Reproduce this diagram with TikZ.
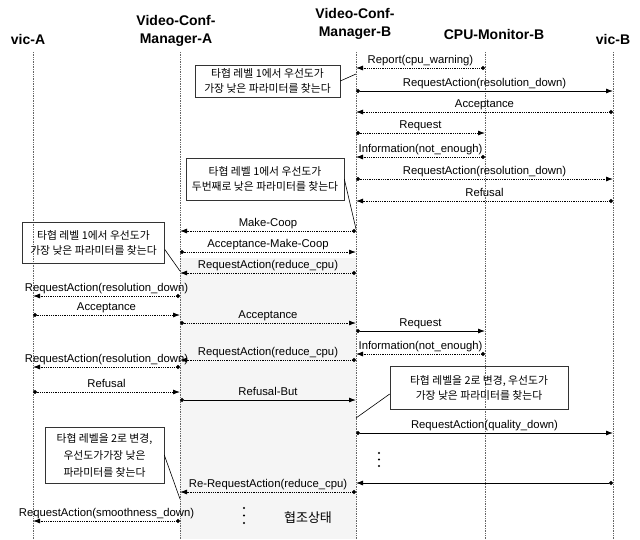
\documentclass[tikz,border=0pt]{standalone}
\usepackage{fontspec}
\setmainfont{Liberation Sans}
\newfontfamily\krfont{Noto Sans CJK KR}
\usetikzlibrary{arrows.meta,positioning}
\definecolor{lifeCol}{HTML}{666666}
\definecolor{noteEdge}{HTML}{333333}
\definecolor{coopCol}{HTML}{F5F5F5}
\tikzset{
  actor/.style={font=\fontsize{14}{18}\selectfont\bfseries, align=center, inner sep=0pt},
  life/.style={draw=lifeCol, densely dotted, line width=0.7pt},
  msg/.style={{Circle[length=4pt]}-{Latex[length=7pt,width=5pt]}, densely dotted, line width=0.8pt},
  msgs/.style={{Circle[length=4pt]}-{Latex[length=7pt,width=5pt]}, line width=0.8pt},
  mlab/.style={font=\fontsize{11.3}{13}\selectfont, above=1pt, inner sep=1pt,
        text height=8.5pt, text depth=2.5pt},
  note/.style={draw=noteEdge, line width=0.6pt, align=center, inner sep=2pt,
        font=\krfont\fontsize{10.8}{15}\selectfont},
  nlink/.style={draw, line width=0.6pt},
}

\begin{document}
\begin{tikzpicture}[x=1pt,y=-1pt]
  \useasboundingbox (0,0) rectangle (640,539);
  \fill[coopCol] (180,258) rectangle (356,539);
  \node[actor] (vicA) at (28,39) {vic-A};
  \node[actor] (vcmA) at (176,31) {Video-Conf-\\Manager-A};
  \node[actor] (vcmB) at (355,24) {Video-Conf-\\Manager-B};
  \node[actor] (cpuB) at (494,34) {CPU-Monitor-B};
  \node[actor] (vicB) at (613,39) {vic-B};
  \coordinate (lA) at (33,52);
  \coordinate (lMA) at (180,52);
  \coordinate (lMB) at (356,52);
  \coordinate (lC) at (485,52);
  \coordinate (lB) at (613,52);
  \draw[life] (lA) -- (lA |- 0,539);
  \draw[life] (lMA) -- (lMA |- 0,539);
  \draw[life] (lMB) -- (lMB |- 0,539);
  \draw[life] (lC) -- (lC |- 0,539);
  \draw[life] (lB) -- (lB |- 0,539);
  \draw[msg] (lC |- 0,68) -- node[mlab]{Report(cpu\_warning)} (lMB |- 0,68);
  \draw[msgs] (lMB |- 0,91) -- node[mlab]{RequestAction(resolution\_down)} (lB |- 0,91);
  \draw[msg] (lB |- 0,112) -- node[mlab]{Acceptance} (lMB |- 0,112);
  \draw[msg] (lMB |- 0,133) -- node[mlab]{Request} (lC |- 0,133);
  \draw[msg] (lC |- 0,157) -- node[mlab]{Information(not\_enough)} (lMB |- 0,157);
  \draw[msg] (lMB |- 0,179) -- node[mlab]{RequestAction(resolution\_down)} (lB |- 0,179);
  \draw[msg] (lB |- 0,201) -- node[mlab]{Refusal} (lMB |- 0,201);
  \draw[msg] (lMB |- 0,231) -- node[mlab]{Make-Coop} (lMA |- 0,231);
  \draw[msg] (lMA |- 0,252) -- node[mlab]{Acceptance-Make-Coop} (lMB |- 0,252);
  \draw[msg] (lMB |- 0,273) -- node[mlab]{RequestAction(reduce\_cpu)} (lMA |- 0,273);
  \draw[msg] (lMA |- 0,296) -- node[mlab]{RequestAction(resolution\_down)} (lA |- 0,296);
  \draw[msg] (lA |- 0,315) -- node[mlab]{Acceptance} (lMA |- 0,315);
  \draw[msg] (lMA |- 0,323) -- node[mlab]{Acceptance} (lMB |- 0,323);
  \draw[msgs] (lMB |- 0,331) -- node[mlab]{Request} (lC |- 0,331);
  \draw[msg] (lC |- 0,354) -- node[mlab]{Information(not\_enough)} (lMB |- 0,354);
  \draw[msg] (lMB |- 0,360) -- node[mlab]{RequestAction(reduce\_cpu)} (lMA |- 0,360);
  \draw[msg] (lMA |- 0,367) -- node[mlab]{RequestAction(resolution\_down)} (lA |- 0,367);
  \draw[msg] (lA |- 0,392) -- node[mlab]{Refusal} (lMA |- 0,392);
  \draw[msgs] (lMA |- 0,400) -- node[mlab]{Refusal-But} (lMB |- 0,400);
  \draw[msgs] (lMB |- 0,433) -- node[mlab]{RequestAction(quality\_down)} (lB |- 0,433);
  \draw[msgs] (lB |- 0,483) -- (lMB |- 0,483);
  \draw[msg] (lMB |- 0,492) -- node[mlab]{Re-RequestAction(reduce\_cpu)} (lMA |- 0,492);
  \draw[msg] (lMA |- 0,521) -- node[mlab]{RequestAction(smoothness\_down)} (lA |- 0,521);
  \node[note, minimum width=145pt, minimum height=32pt] (n1) at (267.5,81)
    {타협 레벨 1에서 우선도가\\가장 낮은 파라미터를 찾는다};
  \node[note, minimum width=158pt, minimum height=42pt] (n2) at (265,179)
    {타협 레벨 1에서 우선도가\\두번째로 낮은 파라미터를 찾는다};
  \node[note, minimum width=142pt, minimum height=41pt] (n3) at (93.5,242.5)
    {타협 레벨 1에서 우선도가\\가장 낮은 파라미터를 찾는다};
  \node[note, minimum width=178pt, minimum height=43pt] (n4) at (479,388)
    {타협 레벨을 2로 변경, 우선도가\\가장 낮은 파라미터를 찾는다};
  \node[note, minimum width=119pt, minimum height=56pt, font=\krfont\fontsize{10.8}{17}\selectfont]
    (n5) at (104.5,455) {타협 레벨을 2로 변경,\\우선도가가장 낮은\\파라미터를 찾는다};
  \draw[nlink] (n1.east) -- (lMB |- 0,74);
  \draw[nlink] (n2.east) -- (lMB |- 0,229);
  \draw[nlink] ([yshift=-7pt]n3.east) -- (lMA |- 0,271);
  \draw[nlink] ([yshift=-6pt]n4.west) -- (lMB |- 0,418);
  \draw[nlink] (n5.east) -- (lMA |- 0,499);
  \fill (379,453) circle (1.1pt) (379,459.5) circle (1.1pt) (379,466) circle (1.1pt);
  \fill (244,508) circle (1.1pt) (244,515.5) circle (1.1pt) (244,523) circle (1.1pt);
  \node[font=\krfont\fontsize{13}{15}\selectfont] (coop) at (308,518) {협조상태};
\end{tikzpicture}
\end{document}
